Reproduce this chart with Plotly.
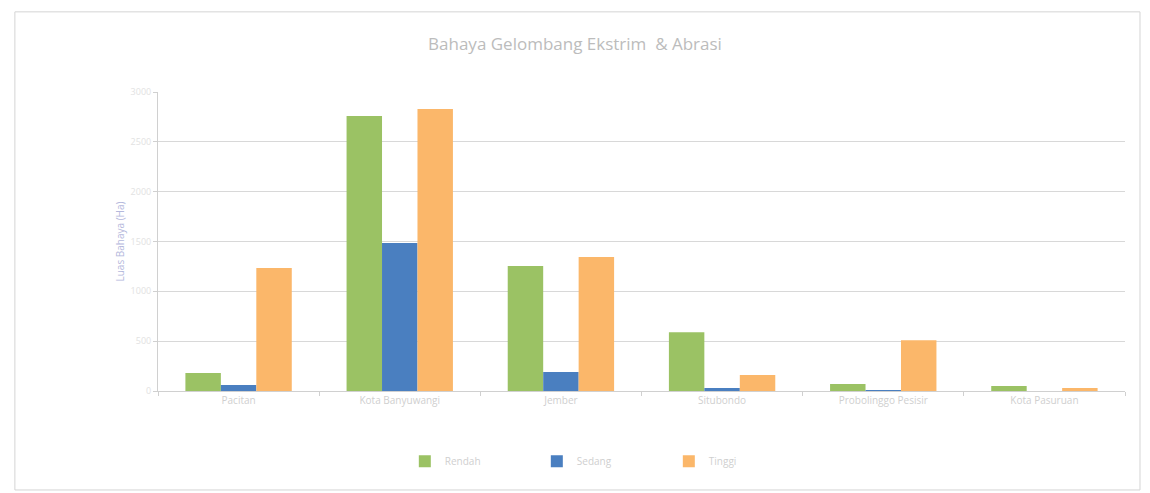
import plotly.graph_objects as go

# Luas bahaya gelombang ekstrim & abrasi per wilayah (Ha)
wilayah = ["Pacitan", "Kota Banyuwangi", "Jember", "Situbondo", "Probolinggo Pesisir", "Kota Pasuruan"]
rendah = [180, 2760, 1255, 590, 70, 50]
sedang = [60, 1485, 190, 30, 10, 0]
tinggi = [1235, 2830, 1345, 160, 510, 30]
y_ticks = [0, 500, 1000, 1500, 2000, 2500, 3000]

warna = {"Rendah": "#9BC264", "Sedang": "#4A7FC0", "Tinggi": "#FBB76A"}

fig = go.Figure()
for nama, nilai in [("Rendah", rendah), ("Sedang", sedang), ("Tinggi", tinggi)]:
    fig.add_trace(go.Bar(name=nama, x=wilayah, y=nilai, marker=dict(color=warna[nama], line=dict(width=0))))

faint = "#cfcfcf"
fig.update_layout(
    width=1150, height=493,
    paper_bgcolor="white", plot_bgcolor="white",
    barmode="group", bargap=0.34, bargroupgap=0.0,
    font=dict(family="Open Sans, sans-serif", color=faint, size=10),
    title=dict(text="Bahaya Gelombang Ekstrim  & Abrasi", x=0.5, xanchor="center", y=0.91, yanchor="middle",
               font=dict(size=17, color="#bcbcbc")),
    margin=dict(l=158, r=25, t=92, b=102),
    showlegend=True,
    legend=dict(orientation="h", x=0.46, xanchor="center", y=-0.235, yanchor="middle",
                font=dict(size=10, color=faint), entrywidth=87, entrywidthmode="pixels",
                traceorder="normal"),
    xaxis=dict(showgrid=False, showline=True, linecolor="#d0d0d0", linewidth=1,
               ticks="outside", ticklen=4, tickcolor="#d0d0d0", tickson="boundaries",
               tickfont=dict(size=10, color=faint)),
    yaxis=dict(range=[0, 3000], tickvals=y_ticks, showgrid=True, gridcolor="#d8d8d8", gridwidth=1,
               showline=True, linecolor="#d0d0d0", ticks="outside", ticklen=4, tickcolor="#d0d0d0",
               tickfont=dict(size=9, color="#e2e2e2"), zeroline=False,
               title=dict(text="Luas Bahaya (Ha)", font=dict(size=10, color="#b4b8dc"), standoff=4)),
)

# Bingkai area grafik
fig.add_shape(type="rect", xref="paper", yref="paper", x0=-0.148, x1=1.0155, y0=-0.331, y1=1.268,
              line=dict(color="#d4d4d4", width=1))

fig.write_html("out.html")
